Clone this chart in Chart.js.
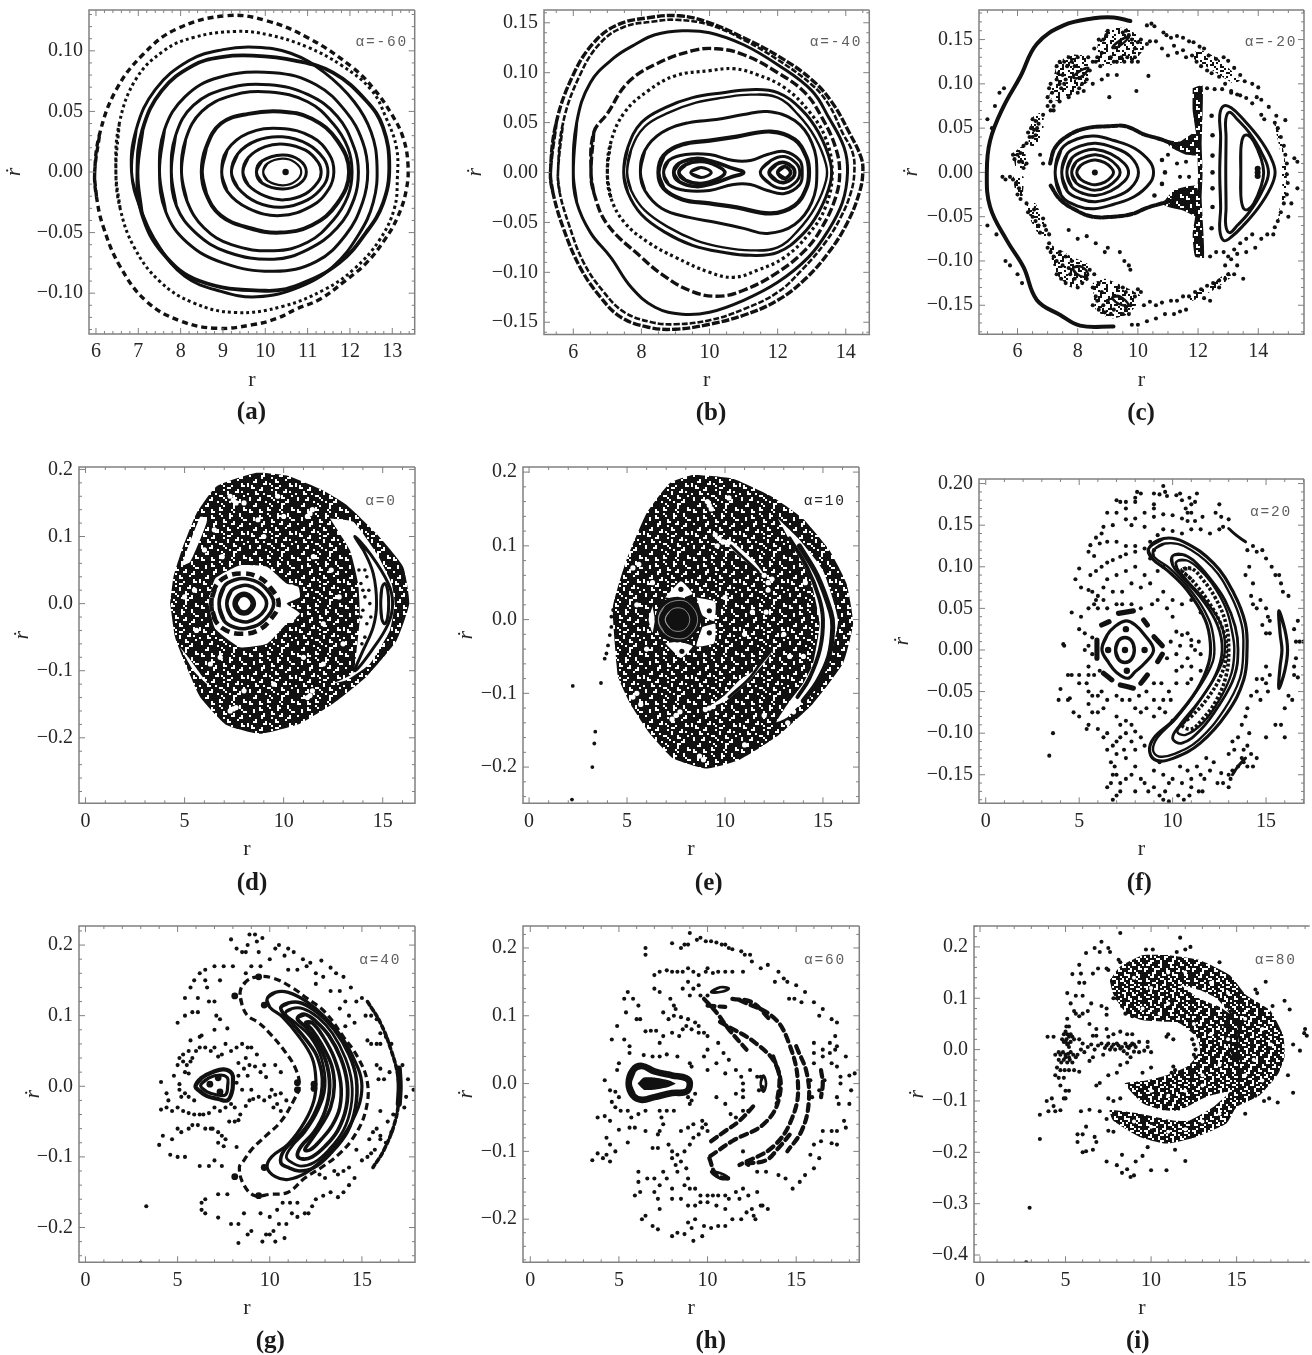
<!DOCTYPE html>
<html><head><meta charset="utf-8">
<script src="https://cdn.jsdelivr.net/npm/chart.js@4"></script>
<style>html,body{margin:0;background:#fff}#w{position:relative;width:1312px;height:1355px;overflow:hidden;background:#fff}canvas{position:absolute}</style>
</head><body><div id="w"></div>
<script>
// ---------- values: flat lists r,v,r,v,...
const aOuter=[5.97,0,6.09,.032,6.48,.068,7.11,.097,7.9,.118,9.08,.129,10.02,.125,11.05,.11,12.07,.086,12.58,.068,12.98,.048,13.25,.029,13.37,.007,13.33,-.015,13.13,-.037,12.82,-.056,12.39,-.075,11.88,-.09,11.29,-.105,10.74,-.113,10.26,-.121,9.71,-.126,8.85,-.129,8,-.123,7.2,-.107,6.57,-.078,6.17,-.045,6.01,-.02];
const aRing2=[6.47,0,6.55,.04,6.95,.077,7.6,.1,8.3,.111,9.3,.116,10.1,.113,11,.103,11.8,.088,12.5,.068,12.85,.045,13.1,.02,13.12,-.005,13.05,-.03,12.7,-.056,12.1,-.08,11.4,-.097,10.4,-.111,9.3,-.116,8.3,-.108,7.5,-.09,6.9,-.062,6.57,-.03];
const aRing3=[6.84,0,6.95,.035,7.4,.068,8.2,.092,9,.101,9.75,.103,10.6,.098,11.4,.082,12.1,.058,12.5,.033,12.64,.005,12.55,-.025,12.2,-.052,11.6,-.078,10.8,-.095,9.8,-.103,8.9,-.098,8.1,-.086,7.5,-.062,7.05,-.03];
const aRing4=[6.98,0,7.1,.035,7.55,.067,8.3,.088,9,.095,9.7,.096,10.7,.092,11.6,.082,12.38,.059,12.78,.037,12.93,.004,12.78,-.026,12.38,-.05,11.75,-.075,10.8,-.093,10,-.098,8.45,-.09,7.58,-.067,7.08,-.034];
const aRing5=[7.5,0,7.62,.035,8.1,.062,8.9,.078,10.2,.082,11.2,.072,11.9,.05,12.3,.025,12.42,0,12.3,-.025,11.9,-.052,11.2,-.074,10.2,-.082,9,-.075,8.15,-.058,7.65,-.033];
const aRing6=[7.78,0,7.88,.03,8.3,.055,9.1,.069,10.1,.072,11,.064,11.7,.046,12.1,.02,12.2,0,12.1,-.022,11.7,-.046,11,-.064,10.2,-.072,9.1,-.066,8.35,-.05,7.9,-.028];
const aRing7=[8.02,0,8.12,.027,8.5,.05,9.2,.063,10.1,.066,11,.058,11.6,.04,11.95,.02,12.05,0,11.95,-.02,11.6,-.04,11,-.058,10.2,-.065,9.2,-.06,8.55,-.046,8.15,-.024];
const aRing8=[8.5,0,8.6,.02,8.95,.04,9.6,.048,10.35,.05,11.1,.044,11.7,.026,11.98,0,11.7,-.026,11.1,-.044,10.35,-.05,9.6,-.046,8.95,-.036,8.6,-.018];
const aRing9=[8.97,0,9.1,.018,9.6,.032,10.35,.036,11.1,.029,11.52,.014,11.62,0,11.5,-.014,11.1,-.028,10.35,-.036,9.6,-.03,9.1,-.016];
const aRing10=[9.2,0,9.35,.015,9.8,.026,10.4,.029,11,.023,11.38,.011,11.48,0,11.38,-.011,11,-.023,10.4,-.029,9.8,-.025,9.35,-.013];
const aRing11=[9.47,0,9.6,.012,10,.021,10.45,.023,10.95,.018,11.25,.008,11.32,0,11.25,-.008,10.95,-.018,10.45,-.023,10,-.02,9.6,-.011];
const aRing12=[9.79,0,9.92,.009,10.4,.014,10.8,.01,10.97,0,10.8,-.01,10.4,-.014,9.92,-.009];
const aRing13=[9.95,0,10.05,.007,10.4,.011,10.7,.008,10.85,0,10.7,-.008,10.4,-.011,10.05,-.007];
const aCentre=[10.48,0];

const bRing1=[5.33,0,5.5,.05,6,.098,6.6,.13,7.3,.148,8.2,.155,9.1,.157,10,.15,11,.135,12,.117,13,.093,13.6,.07,14.1,.04,14.45,.015,14.5,0,14.4,-.02,14.05,-.05,13.5,-.08,12.8,-.107,12,-.128,11,-.143,10,-.152,9,-.157,8.2,-.155,7.4,-.145,6.8,-.125,6.2,-.095,5.7,-.055,5.4,-.02];
const bRing2=[5.55,0,5.7,.05,6.2,.098,6.8,.13,7.5,.146,8.3,.151,9,.153,10,.148,11,.133,12,.113,13,.088,13.5,.068,13.9,.04,14.2,.02,14.25,0,14.15,-.02,13.85,-.045,13.4,-.07,12.7,-.098,12,-.12,11,-.137,10,-.148,9,-.152,8.3,-.15,7.5,-.14,6.9,-.12,6.3,-.09,5.85,-.05,5.6,-.02];
const bRing3=[6,0,6.1,.05,6.5,.09,7.2,.115,7.8,.128,8.4,.138,9.2,.142,10,.14,11,.128,12,.108,13,.082,13.5,.055,13.95,.025,14.05,0,13.9,-.03,13.45,-.06,12.9,-.085,12,-.11,11,-.128,10,-.14,9.2,-.142,8.4,-.135,7.7,-.115,7.1,-.085,6.5,-.06,6.1,-.03];
const bRing4=[6.52,0,6.6,.04,7,.059,7.6,.09,8.45,.109,9.5,.122,10.2,.124,11,.118,12,.1,12.8,.08,13.3,.055,13.7,.025,13.82,0,13.7,-.025,13.3,-.055,12.8,-.078,12,-.1,11,-.118,10.2,-.124,9.4,-.118,8.6,-.102,8,-.085,7,-.052,6.6,-.02];
const bRing5=[7,0,7.1,.03,7.5,.06,8.2,.082,9,.097,10,.102,10.7,.104,11.4,.098,12.2,.085,12.9,.062,13.4,.035,13.6,0,13.4,-.035,12.9,-.062,12.2,-.085,11.4,-.098,10.7,-.105,10,-.1,9,-.085,8.2,-.07,7.5,-.05,7.1,-.025];
const bRing6=[7.48,0,7.6,.025,8,.05,8.7,.065,9.5,.075,10.4,.08,11.2,.083,12,.08,12.7,.063,13.2,.04,13.55,.01,13.55,-.01,13.2,-.04,12.7,-.063,12,-.08,11.2,-.083,10.4,-.08,9.5,-.073,8.7,-.06,8,-.042,7.6,-.02];
const bRing7=[7.58,0,7.7,.023,8.1,.046,8.8,.06,9.6,.07,10.4,.075,11.2,.078,12,.075,12.6,.058,13.1,.035,13.42,.008,13.42,-.008,13.1,-.035,12.6,-.058,12,-.075,11.2,-.078,10.4,-.075,9.6,-.068,8.8,-.055,8.1,-.038,7.7,-.018];
const bRing8=[7.97,0,8.1,.022,8.6,.04,9.4,.05,10.2,.053,11,.058,11.7,.061,12.5,.052,13,.03,13.15,0,13,-.03,12.5,-.052,11.7,-.061,11,-.056,10.2,-.05,9.4,-.045,8.6,-.036,8.1,-.018];
const bRing9=[8.5,0,8.65,.017,9.2,.028,10,.032,10.8,.036,11.8,.041,12.5,.033,12.85,.015,12.92,0,12.85,-.015,12.5,-.033,11.8,-.041,10.8,-.035,10,-.031,9.2,-.027,8.65,-.016];
const bRing10=[8.65,0,8.8,.012,9.3,.018,10,.018,10.7,.012,11.2,.012,11.7,.018,12.2,.021,12.65,.012,12.72,0,12.65,-.012,12.2,-.021,11.7,-.018,11.2,-.012,10.7,-.012,10,-.018,9.3,-.018,8.8,-.012];
const bLobeL1=[8.95,0,9.1,.009,9.6,.014,10.1,.011,10.6,.005,11,0,10.6,-.005,10.1,-.011,9.6,-.014,9.1,-.009];
const bLobeL2=[9.1,0,9.3,.008,9.75,.011,10.2,.007,10.45,0,10.2,-.007,9.75,-.011,9.3,-.008];
const bLobeL3=[9.45,0,9.75,.005,10.05,0,9.75,-.005];
const bLobeR1=[11.49,0,11.8,.012,12.2,.016,12.55,.009,12.65,0,12.55,-.009,12.2,-.016,11.8,-.012];
const bLobeR2=[11.75,0,11.95,.008,12.2,.01,12.45,.005,12.5,0,12.45,-.005,12.2,-.01,11.95,-.008];
const bLobeR3=[12,0,12.2,.006,12.38,0,12.2,-.006];

const cOval1=[7.25,0,7.45,.026,8,.038,8.55,.041,9.2,.036,9.9,.027,10.4,.012,10.52,0,10.4,-.012,9.9,-.027,9.2,-.036,8.55,-.041,8,-.038,7.45,-.026];
const cOval2=[7.47,0,7.65,.021,8.1,.03,8.6,.033,9.2,.028,9.75,.018,10.02,0,9.75,-.018,9.2,-.028,8.6,-.033,8.1,-.03,7.65,-.021];
const cOval3=[7.64,0,7.8,.016,8.2,.024,8.6,.026,9.1,.021,9.55,.01,9.69,0,9.55,-.01,9.1,-.021,8.6,-.026,8.2,-.024,7.8,-.016];
const cOval4=[7.8,0,7.95,.012,8.3,.018,8.6,.02,9,.016,9.32,.007,9.41,0,9.32,-.007,9,-.016,8.6,-.02,8.3,-.018,7.95,-.012];
const cOval5=[7.97,0,8.1,.008,8.4,.013,8.6,.014,8.9,.011,9.12,.005,9.19,0,9.12,-.005,8.9,-.011,8.6,-.014,8.4,-.013,8.1,-.008];
const cCentre=[8.57,0,13.98,0,13.98,.004,13.98,-.004];
const cMoon1=[12.72,0,12.75,.04,12.72,.065,12.85,.075,13.1,.073,13.5,.06,14,.04,14.4,.018,14.56,0,14.4,-.018,14,-.04,13.5,-.06,13.1,-.073,12.85,-.077,12.72,-.065,12.75,-.04];
const cMoon2=[12.92,0,12.93,.04,12.92,.06,13.05,.068,13.3,.06,13.7,.045,14.1,.023,14.34,0,14.1,-.023,13.7,-.045,13.3,-.06,13.05,-.068,12.92,-.06,12.93,-.04];
const cMoon3=[13.42,0,13.42,.025,13.5,.04,13.65,.042,13.85,.035,14.1,.015,14.18,0,14.1,-.015,13.85,-.035,13.65,-.042,13.5,-.04,13.42,-.025];
const cColumn=[12.45,.064,12.48,.042,12.48,.019,12.48,0,12.48,-.018,12.48,-.039,12.45,-.063,10.8,.014,10.9,0,10.8,-.013,10.55,-.026];
const cBandTop=[7.08,.01,7.25,.028,7.7,.042,8.3,.05,9,.052,9.6,.052,10.2,.043,10.8,.037,11.3,.03];
const cBandLow=[7.1,-.015,7.4,-.03,7.9,-.042,8.5,-.05,9.2,-.05,9.8,-.047,10.3,-.04,10.9,-.034,11.3,-.03];
const cMassTop=[10.9,.037,11.4,.035,11.9,.045,12.1,.02,11.6,.02,11.1,.028];
const cMassLow=[10.8,-.036,11.2,-.02,11.9,-.015,12.1,-.03,12,-.05,11.5,-.043,11.1,-.04];
const cWall=[11.82,.095,12.15,.098,12.12,.03,12.15,0,12.12,-.03,12.2,-.096,11.9,-.095,11.82,-.07,11.95,-.04,12,0,11.95,.04,11.82,.07];
const cRim=[9.75,.171,9.2,.175,8.53,.174,7.53,.166,6.64,.145,6.09,.108,5.53,.074,5.09,.036,4.98,0,5.09,-.039,5.65,-.077,6.2,-.107,6.64,-.144,7.42,-.161,8.08,-.173,9.19,-.174];
const cIsle1=[9.15,.141,9.4,.149,9.7,.153,9.55,.147,9.3,.141];
const cIsle2=[7.85,.108,8.1,.115,8.35,.118,8.2,.11,7.95,.106];
const cIsle3=[7.85,-.108,8.1,-.106,8.35,-.115,8.2,-.118,7.95,-.114];
const cIsle4=[9.15,-.141,9.4,-.14,9.7,-.15,9.5,-.15,9.25,-.146];
const cPatchA=[8.6,.125,8.7,.15,9,.162,9.6,.163,10.1,.152,10.2,.14,9.9,.127,9.3,.123,8.9,.12];
const cPatchB=[7.05,.085,7.3,.12,7.7,.133,8.45,.13,8.4,.105,7.9,.09,7.4,.08];
const cPatchC=[6.35,.03,6.5,.062,6.85,.068,6.85,.045,6.6,.03];
const cPatchD=[5.85,.022,6.2,.03,6.3,.005,5.95,.005];
const cPatchE=[5.85,-.005,6.2,-.005,6.15,-.03,5.95,-.025];
const cPatchF=[6.3,-.035,6.6,-.035,7.05,-.07,6.8,-.075,6.45,-.055];
const cPatchG=[7,-.08,7.3,-.115,7.8,-.13,8.4,-.12,8.4,-.105,7.8,-.095,7.3,-.085];
const cPatchH=[8.5,-.125,8.6,-.155,9.1,-.165,9.7,-.16,10.1,-.14,9.5,-.128,8.9,-.12];
const cPatchI=[12,.14,12.6,.13,13.4,.105,13.2,.1,12.4,.117,11.8,.13];
const cPatchJ=[11.6,-.14,12.4,-.128,13,-.112,13.1,-.118,12.5,-.133,11.8,-.145];
const cPatchK=[14.5,.06,14.75,.04,14.95,0,14.9,-.03,14.65,-.055,14.8,-.02,14.75,.02];
const cArcTop=[10.3,.166,10.45,.168,10.55,.165,10.85,.158,10.95,.155,11.1,.152,11.3,.154,11.5,.152,11.7,.148,11.85,.147,12.05,.142,12.2,.14,12.35,.132,12.6,.128,12.85,.13,13,.126,13.2,.118,13.4,.11,13.55,.103,13.8,.1,14,.096,13.95,.085,14.1,.082,14.35,.074,14.6,.064,14.9,.059,10.4,.148,10.6,.148,10.8,.14,11,.132,11.2,.143,11.3,.135,11.5,.138,11.6,.13,11.8,.132,11.95,.125,12.1,.12,12.3,.115,12.45,.112,12.7,.108,12.9,.1,13.1,.092,13.3,.088,13.6,.084,13.8,.078,14.1,.065,14.2,.06,12.3,.095,12.55,.094,12.8,.094,13.1,.09,13.4,.087];
const cArcRight=[14.55,.056,14.65,.05,14.75,.04,14.85,.03,14.9,.02,14.95,.01,14.95,-.002,14.98,-.012,14.95,-.025,14.85,-.035,14.75,-.045,14.65,-.055,14.55,-.062,14.5,-.07,14.3,-.07,14.1,-.075,13.9,-.085,13.6,-.09,13.3,-.092,13.1,-.098,15.2,.016,15.3,.012,15.3,-.018,15.1,-.035,15,-.05];
const cArcLow=[12.4,-.095,12.6,-.09,12.85,-.09,13,-.095,13.2,-.087,13.4,-.08,13.6,-.075,13.8,-.07,12.9,-.12,12.7,-.122,12.5,-.125,12.3,-.128,12.1,-.132,11.9,-.135,11.7,-.14,11.5,-.14,11.3,-.145,11.1,-.145,10.8,-.147,10.6,-.15,10.4,-.146,10.2,-.15,10.9,-.16,10.6,-.165,10.3,-.168,10,-.172,9.8,-.172,11.6,-.155,11.4,-.157,11.2,-.16,12.2,-.142,12.4,-.145,12.7,-.13,13,-.115,13.2,-.115,13.5,-.12,13.3,-.105,12.9,-.105];
const cCloudUp=[7,.085,7.05,.095,7.1,.08,7.15,.09,7.2,.075,7.1,.1,7.3,.105,7.4,.1,7.35,.112,7.45,.095,7.55,.1,7.5,.11,7.6,.105,7.3,.12,7.4,.125,7.55,.125,7.65,.12,7.7,.13,7.8,.125,7.9,.12,8,.13,8.05,.095,8.15,.1,8.3,.105,8.4,.115,8.35,.13,8.5,.125,8.55,.14,8.65,.13,8.7,.15,8.8,.135,8.6,.125,8.75,.12,8.85,.15,8.95,.155,9,.16,9.1,.13,9.2,.125,9.3,.125,9.45,.13,9.55,.125,9.65,.13,9.8,.125,9.9,.13,10,.125,9.7,.155,9.8,.15,9.6,.16,9.5,.158,9.9,.14,10,.147,10.1,.15,10.3,.145,7.2,.07,7.4,.08,7.7,.085,8,.09,8.2,.092,8.5,.1,8.8,.105,9,.11,9.3,.11,9.05,.085,9.95,.092,10.35,.109];
const cCloudLow=[7,-.085,7.1,-.09,7.05,-.08,7.2,-.095,7.3,-.1,7.4,-.09,7.5,-.105,7.6,-.095,7.7,-.108,7.8,-.1,7.3,-.115,7.45,-.12,7.6,-.125,7.75,-.115,7.9,-.12,8,-.13,8.15,-.125,8.3,-.12,8.4,-.11,8.55,-.115,8.5,-.13,8.6,-.14,8.7,-.125,8.8,-.135,8.65,-.145,8.5,-.15,8.7,-.155,8.85,-.15,9,-.145,9.1,-.16,9.2,-.155,9.35,-.13,9.5,-.13,9.6,-.135,9.75,-.15,9.9,-.14,10,-.132,10.1,-.135,9.5,-.16,9.6,-.155,9.7,-.16,8.9,-.158,9.4,-.09,9.55,-.1,9.7,-.105,9.75,-.11,9,-.085,8.6,-.08,8.9,-.09,8.3,-.072,8,-.075,7.7,-.065];
const cCloudMid=[6.5,.06,6.6,.058,6.7,.055,6.45,.05,6.55,.048,6.65,.05,6.35,.045,6.4,.04,6.5,.04,6.6,.042,6.3,.033,6.2,.03,6.1,.022,6,.02,6.05,.012,5.9,.015,5.85,.02,6.15,.012,6.2,.005,5.5,-.005,5.6,-.008,5.75,-.005,5.85,-.008,5.95,-.012,6.05,-.018,6,-.025,6.1,-.03,6.3,-.035,6.35,-.045,6.5,-.05,6.55,-.042,6.6,-.055,6.7,-.06,6.75,-.068,6.85,-.052,6.95,-.065,7.05,-.07,6.9,-.06,6.85,.065,7,.075,7.1,.07,6.3,.01,6.75,.02,6.85,.01,5.4,.09,5.55,.095,5.25,.075,5,.06,5.15,.05,5,-.06,5.3,-.07,5.6,-.1,5.75,-.105,6,-.115,6.15,-.125,11,.02,11.3,.01,11.4,-.005,11.6,.012,11.7,-.005];

const dEdge=[4.27,0,4.44,.04,4.86,.08,5.61,.135,6.62,.175,8.64,.195,10.15,.191,11.83,.171,13.18,.147,14.69,.104,16.03,.055,16.34,0,15.7,-.055,14.18,-.109,12.5,-.149,10.82,-.179,8.8,-.194,7.12,-.181,5.78,-.139,5.11,-.095,4.52,-.05];
const dCore=[6.2,0,6.54,.037,7.8,.057,9.15,.055,10.15,.03,10.74,.025,10.82,.01,10.15,0,10.82,-.015,10.15,-.03,9.15,-.06,7.8,-.065,6.54,-.037];
const dBeads=[6.35,0,6.55,.025,7.1,.04,7.9,.045,8.7,.04,9.3,.025,9.75,0,9.3,-.025,8.7,-.04,7.9,-.045,7.1,-.04,6.55,-.025];
const dRing1=[6.74,0,7,.026,7.6,.036,8.1,.037,8.8,.03,9.35,.013,9.5,0,9.35,-.013,8.8,-.03,8.1,-.037,7.6,-.036,7,-.026];
const dRing2=[7.13,0,7.35,.019,7.8,.026,8.2,.027,8.7,.02,9.05,.009,9.14,0,9.05,-.009,8.7,-.02,8.2,-.027,7.8,-.026,7.35,-.019];
const dRing3=[7.55,0,7.7,.01,8,.014,8.3,.01,8.47,0,8.3,-.01,8,-.014,7.7,-.01];
const dGap=[12.34,.127,13.51,.122,14.69,.075,15.45,.03,15.6,0,15.36,-.04,14.35,-.09,13.18,-.114,12.5,-.119,13.5,-.104,13.68,-.07,13.85,-.02,13.76,.03,13.34,.08];
const dMoon=[13.6,.1,14.35,.075,15.28,.03,15.5,0,15.28,-.03,14.44,-.07,13.6,-.1,13.93,-.075,14.52,-.035,14.69,0,14.52,.045,14.02,.08];
const dMoonCore=[14.9,0,14.95,.022,15.1,.03,15.25,.02,15.3,0,15.25,-.02,15.1,-.03,14.95,-.022];
const dGapUp=[6.03,.129,5.78,.129,4.86,.057,5.28,.062,5.78,.095,6.12,.122];
const dGapLow=[4.77,-.065,5.45,-.1,6.29,-.124,5.78,-.104,5.19,-.08];
const dSpecks=[7.46,.154,7.6,.15,7.3,.16,11.33,.134,11.2,.13,11.45,.14,7.46,-.157,7.6,-.155,7.3,-.16,11.33,-.137,11.2,-.14,11.45,-.13,10.5,.017,10.4,.025,10.5,-.02,10.4,-.025,6,.08,6.5,.11,9,.1,10,.13,8,.15,5.5,.02,5,.01,5.6,-.04,6.3,-.09,8,-.13,9.5,-.12,11,-.08,12,-.09,12,-.03,12.8,.01,12.4,.05,11.5,.07,13,-.06,9.7,.16,8.7,.125,6.9,.07,6.8,-.08];
const dSparse=[13.9,.03,14,.02,14.1,.01,14,-.01,13.9,-.02,14.2,-.03,14.1,-.05,14.3,.02,13.95,-.06,13.8,.05,14.1,.05,14.2,.04,14.35,0,14.4,-.02];

const eEdge=[4.46,-.06,4.28,.017,4.96,.08,5.99,.144,7.18,.185,8.37,.196,10.41,.191,12.45,.166,13.97,.137,15.33,.094,16.2,.049,16.54,-.005,16.03,-.059,14.49,-.114,12.62,-.159,10.75,-.19,9.05,-.202,7.35,-.188,6.15,-.154,5.14,-.113,4.54,-.078];
const eDisc=[6.4,0,6.65,.021,7.1,.029,7.6,.031,8.2,.027,8.65,.014,8.8,0,8.65,-.014,8.2,-.027,7.6,-.031,7.1,-.029,6.65,-.021];
const eThin1=[6.6,0,6.9,.018,7.6,.026,8.2,.021,8.6,0,8.2,-.021,7.6,-.026,6.9,-.018];
const eThin2=[6.95,0,7.2,.012,7.6,.016,8,.012,8.2,0,8,-.012,7.6,-.016,7.2,-.012];
const ePetal1=[6.95,.03,7.75,.052,8.35,.035,7.6,.028];
const ePetal2=[8.55,.03,9.5,.024,9.45,-.002,8.85,.006];
const ePetal3=[8.85,-.01,9.5,-.006,9.45,-.032,8.55,-.036];
const ePetal4=[6.95,-.032,7.6,-.03,8.35,-.036,7.75,-.052];
const ePetal5=[6.3,.018,6.42,0,6.3,-.018,6.1,0];
const ePetalDots=[7.75,.041,9.2,.012,9.2,-.018,7.8,-.043];
const eLensUp=[9.81,.11,10.41,.105,11.43,.081,12.02,.06,11.26,.074,10.41,.094];
const eLensLow=[9.05,-.121,10.07,-.11,11.26,-.082,12.11,-.055,12.45,-.042,11.77,-.064,10.75,-.082,9.98,-.103];
const eLensLine=[10.2,-.105,11.3,-.078,11.9,-.055];
const eLensLine2=[10.3,.1,11.1,.08,11.7,.065];
const eGap=[12.7,.137,13.81,.108,15,.067,15.77,-.001,15.26,-.06,14.32,-.1,13.21,-.132,12.62,-.139,13.21,-.114,13.98,-.087,14.49,-.06,14.83,-.005,14.32,.058,13.47,.099];
const eArc1=[13.3,.11,14.2,.07,14.8,.03,15,0,14.85,-.04,14.3,-.08,13.7,-.105];
const eArc2=[13.8,.1,14.7,.06,15.4,.01,15.5,-.01,15.3,-.05,14.7,-.085,14,-.11];
const eSpecks=[9.7,.11,9.9,.105,9.5,.115,9.6,.1,12.2,.05,12.4,.055,12,.06,12.2,.04,9.2,-.12,9.4,-.118,9,-.122,7.5,-.13,7.3,-.135,7.7,-.125,9.2,.155,9.3,.15,9.1,.16,5.3,.07,5.6,.075,10.2,.165,14.1,.05,13,-.02,14,-.05,12.1,.01,11.4,.01,11,-.02,5.3,-.105,5.5,-.1,5.7,-.115,8.7,-.185,8.9,-.19,11,-.17,12,-.13,13.3,-.05,13.2,-.14,13.5,-.125,13.7,-.115,10,.03,6,-.04,6.3,.05,5.5,.02];
const eStray=[2.23,-.09,3.67,-.086,3.38,-.152,3.33,-.168,3.23,-.2,2.19,-.244,3.86,-.053,3.95,-.046,4.03,-.035,4.12,-.021,4.2,-.01,4.2,.004,4.29,.013];

const fCres1=[8.72,.122,9.52,.134,10.59,.13,12.2,.104,13.28,.068,13.89,.032,13.98,0,13.8,-.036,12.91,-.076,11.48,-.112,10.06,-.13,9.17,-.133,8.77,-.122,8.99,-.106,10.06,-.084,11.3,-.048,11.93,-.016,12.02,.008,11.75,.036,10.77,.072,9.7,.096,8.9,.11];
const fCres2=[8.99,.12,9.6,.128,10.6,.125,12.1,.1,13.1,.066,13.7,.03,13.78,0,13.6,-.034,12.75,-.072,11.4,-.108,10.1,-.125,9.25,-.128,8.95,-.12,9.2,-.105,10.2,-.082,11.45,-.044,12.15,-.014,12.22,.008,11.95,.036,10.95,.072,9.85,.098,9,.112];
const fCres3=[10,.113,10.5,.115,11.1,.108,12,.086,12.8,.06,13.35,.028,13.5,0,13.3,-.032,12.5,-.066,11.5,-.096,10.5,-.112,10,-.106,10.4,-.09,11.4,-.062,12.3,-.03,12.65,0,12.4,.03,11.6,.06,10.5,.088,10,.102];
const fCres4=[10.2,.106,10.7,.108,11.3,.1,12.1,.08,12.85,.05,13.2,.02,13.3,0,13.15,-.028,12.5,-.06,11.6,-.088,10.7,-.102,10.25,-.098,10.7,-.085,11.6,-.056,12.45,-.025,12.8,0,12.6,.03,11.8,.058,10.8,.083,10.25,.098];
const fCres5=[10.5,.096,11,.098,11.6,.085,12.3,.062,12.85,.032,13,0,12.85,-.032,12.3,-.062,11.6,-.083,11,-.095,10.5,-.09,11,-.08,11.8,-.06,12.6,-.03,12.88,0,12.6,.03,11.8,.062,11,.085];
const fDiamond=[6.22,0,6.5,.018,6.9,.028,7.5,.035,8,.03,8.5,.018,8.98,0,8.5,-.016,8,-.026,7.6,-.034,7,-.027,6.6,-.016];
const fSmall=[6.95,0,7.1,.011,7.45,.015,7.8,.011,7.95,0,7.8,-.011,7.45,-.015,7.1,-.011];
const fInner=[7.5,.025,7.55,-.025,6.55,0,8.5,0,7.45,0];
const fBead1=[6.2,.03,6.6,.034];const fBead2=[7.1,.044,7.9,.047];const fBead3=[8.45,.036,8.65,.03];const fBead4=[9,.016,9.45,.005];
const fBead5=[5.95,.012,5.95,-.01];const fBead6=[6.3,-.028,6.75,-.036];const fBead7=[7.2,-.042,7.9,-.046];const fBead8=[8.3,-.04,8.65,-.03];const fBead9=[9.2,-.014,9.45,-.005];
const fLens=[15.68,.047,16,.025,16.15,0,16,-.025,15.68,-.046,15.75,-.02,15.85,0,15.75,.02];
const fDash1=[13,.146,13.4,.138,13.9,.13];const fDash2=[13.2,-.15,13.5,-.14,13.9,-.13];
const fDotsUp=[9.5,.197,9.6,.19,8.1,.19,8,.183,8.3,.188,9,.188,9.3,.187,9.7,.185,10.2,.186,10.4,.188,10.5,.18,10.9,.183,11.3,.188,11.2,.178,11,.175,10.7,.17,10.8,.165,11,.165,7,.18,7.2,.178,7.5,.178,7.5,.17,8,.178,9,.175,9,.17,8.5,.165,9,.16,9.5,.163,10,.162,10.5,.158,10.8,.155,11.2,.155,11.6,.16,12.3,.165,12.5,.175,12.6,.16,13,.157,12.7,.148,12.5,.145,12,.14,11.5,.145,11,.145,10.5,.14,10,.143,9.5,.145,9.2,.138,8.5,.148,8,.158,7.8,.15,7.5,.157,7,.165,6.8,.15,6.5,.165,6.3,.148,6.2,.14,5.9,.135,6.1,.128,5.6,.126,5.5,.118,5.8,.113,6.5,.13,7,.13,7.5,.125,8,.125,8,.118,8.5,.122,8.8,.13,7.2,.112,7.5,.115,6.8,.108,6.5,.105,6.2,.1,5.9,.095,5.6,.09,5,.098,4.8,.085,5.1,.075,5.5,.072,5.7,.07,6,.065,6.3,.075,6.5,.085,7,.09,7.5,.095,8,.1,8.5,.09,8.8,.11,9,.12,9.5,.1,9.2,.095,8.8,.08,8.3,.075,7.8,.08,7.3,.07,6.8,.07,6.3,.06,5.8,.055,5.5,.05,5.1,.04,4.6,.045,5,.025,5.3,.02,5.7,.015,5.5,.005,5.3,0,5.7,-.005,5.5,-.02,4.2,.005,4.15,.007];
const fDotsLow=[5.5,-.03,5,-.03,4.6,-.03,4.4,-.03,5,-.04,5.4,-.04,5.8,-.03,6.1,-.025,6.2,-.05,6,-.055,5.7,-.055,5.5,-.05,5.5,-.065,5.7,-.075,6,-.075,6.3,-.07,6.5,-.06,7,-.055,7.3,-.06,7.7,-.06,8.2,-.055,8.6,-.05,9,-.04,9.4,-.04,9.8,-.05,8,-.07,8.3,-.075,8.6,-.07,9,-.06,9.5,-.06,9.3,-.07,9,-.08,9.6,-.075,9.9,-.06,10,-.085,4,-.047,3.9,-.06,4.4,-.06,4.5,-.058,4.7,-.075,5,-.08,5.5,-.09,5.4,-.095,6,-.095,6.5,-.1,6.3,-.105,7,-.08,7.2,-.09,7.5,-.085,7.8,-.09,8,-.098,7.5,-.1,7.2,-.105,7,-.11,6.8,-.115,7.4,-.12,7.8,-.11,8.3,-.105,8.5,-.115,8,-.12,7.5,-.13,7,-.125,6.5,-.12,3.4,-.127,3.6,-.1,6.7,-.135,6.9,-.14,7,-.15,6.8,-.15,6.7,-.16,7.2,-.16,7.5,-.155,7.8,-.15,8,-.14,7.2,-.17,7,-.175,6.5,-.165,6.8,-.18,8,-.17,8.3,-.155,9,-.145,9.5,-.15,9.3,-.135,9.8,-.16,9.6,-.17,9,-.165,9.3,-.175,8.5,-.16,8.7,-.17,9.5,-.18,9.8,-.182,10.3,-.175,10.6,-.18,10.9,-.175,11,-.165,11.4,-.17,11.6,-.17,10,-.155,10.5,-.16,11,-.155,11.5,-.15,11.7,-.155,12,-.145,11.8,-.13,11.3,-.14,10.8,-.145,10.4,-.14,12.2,-.135,12.4,-.16,12.7,-.16,13,-.165,13.1,-.155,12.6,-.148,13,-.15,13.2,-.145,13.5,-.14,13.8,-.135,14,-.14,14.3,-.14,14.5,-.13,14.2,-.125,13.7,-.13,13.3,-.12,13,-.125];
const fDotsRight=[13.8,-.12,14,-.115,13.5,-.105,13.2,-.11,13.7,-.09,13.9,-.08,14,-.07,14.1,-.1,14.2,-.055,14.5,-.05,14.5,-.035,14.8,-.035,15,-.04,15,-.02,15.2,-.03,15.1,-.05,14.7,-.06,15,-.105,15.5,-.09,15.8,-.09,16,-.07,16.2,-.055,16.4,-.06,16,-.105,14.8,.03,15,.02,15.2,.02,15.1,.04,15,.05,15.2,.035,14.3,.055,14.5,.05,14.7,.06,14.2,.065,13.9,.09,14.1,.1,14.3,.08,14,.12,14.3,.125,14.5,.118,14.8,.12,15,.11,15.3,.1,15.5,.09,15.7,.09,15.8,.08,15.9,.07,16.2,.065,16.7,.035,16.5,.025,16.8,.01,16.6,.01,16.6,-.01,16.5,-.02,16.7,-.033,16.5,-.03,17,.01];
const fDotsMid=[9.7,.05,10,.04,10.2,.022,10.5,.018,10.8,.02,11,.012,10.4,.005,10.2,-.005,10.5,-.02,10.2,-.025,9.7,-.01,9.9,.01,11,.005,11.2,0,11.4,.01,11.5,-.005,10.8,-.01,11,-.02,11.5,-.025,11,-.035,10.8,-.04,10.2,-.04,10.5,.055,10,.06,9.5,.07,11,.06,11.5,.045,9.2,.06,8.9,.055,8.3,.05,7.8,.055,7.3,.055,7,.055,6.5,.05,6,.05,5.9,.06];

const gRing1=[9.86,.124,10.3,.133,11,.133,12,.12,13,.098,14,.066,14.8,.025,15,0,14.8,-.03,14,-.07,13,-.1,12,-.122,11,-.132,10.3,-.128,9.86,-.115,10.1,-.1,11,-.082,11.9,-.05,12.4,-.02,12.5,.01,12.3,.04,11.6,.07,10.7,.098,10,.112];
const gRing2=[10.6,.11,11,.118,11.7,.118,12.6,.104,13.5,.08,14.3,.045,14.7,.01,14.65,-.03,14.2,-.065,13.3,-.095,12.4,-.115,11.6,-.12,11,-.115,10.6,-.108,10.8,-.09,11.6,-.07,12.4,-.04,12.85,0,12.6,.04,12,.065,11.2,.09];
const gRing3=[10.85,.103,11.2,.11,11.8,.11,12.6,.098,13.4,.075,14.1,.04,14.45,.005,14.4,-.03,14,-.062,13.2,-.09,12.4,-.108,11.7,-.113,11.2,-.108,10.9,-.1,11.2,-.085,11.9,-.065,12.6,-.035,13,0,12.8,.04,12.2,.07,11.4,.09];
const gRing4=[11.5,.096,11.9,.102,12.5,.092,13.2,.072,13.85,.04,14.2,.005,14.15,-.03,13.7,-.062,13,-.085,12.3,-.1,11.8,-.103,11.5,-.098,11.7,-.085,12.4,-.065,13,-.035,13.25,0,13.05,.035,12.5,.065,11.9,.085];
const gRing5=[11.95,.09,12.3,.09,12.9,.07,13.5,.04,13.85,.005,13.8,-.03,13.4,-.055,12.8,-.075,12.2,-.09,11.9,-.09,12.2,-.078,12.8,-.055,13.3,-.03,13.5,0,13.35,.03,12.8,.06,12.3,.08];
const gChain=[8.4,.135,8.7,.148,9.3,.155,10.2,.153,11.2,.14,12,.125,13,.105,14,.07,14.8,.04,15.3,.005,15.2,-.035,14.6,-.07,13.8,-.095,12.8,-.115,11.9,-.13,11,-.15,10,-.153,9.2,-.155,8.6,-.14,8.35,-.115,8.6,-.105,9,-.09,9.8,-.07,10.6,-.05,11.3,-.02,11.6,0,11.4,.025,10.8,.05,10,.075,9.4,.09,8.8,.1,8.5,.115];
const gArcFar=[15.3,.12,16,.09,16.6,.05,16.95,.015,17,-.015,16.8,-.05,16.2,-.09,15.6,-.115];
const gArcBold=[17,.025,17.05,0,17,-.025];
const gTri1=[5.97,0,6.3,.012,6.9,.02,7.5,.024,7.95,.018,8,.005,7.95,-.008,7.7,-.02,7.2,-.018,6.6,-.014,6.2,-.007];
const gTri2=[6.25,.001,6.7,.012,7.3,.016,7.7,.012,7.72,.002,7.6,-.012,7.1,-.012,6.6,-.008];
const gBlobs=[6.75,.003,7.2,.012,7.3,-.008,9.4,.155,9.7,.115,9.7,-.115,9.4,-.155,8.1,.128,8.1,-.128,12.4,.003,12.4,-.003,11.5,-.005,11.5,.005];
const gDotsLeft=[4.1,.006,4.4,-.01,4.5,-.02,4.7,-.035,4.1,-.033,4.4,-.03,4.8,.015,5.1,.003,5,.03,5.1,.04,5.3,.035,5.5,.03,5.7,.035,5.4,.02,5.6,.018,5.2,-.015,5.1,-.005,5.4,-.01,5.6,-.015,5.9,-.02,5,-.03,5.3,-.035,5.6,-.038,5.9,-.04,6.2,-.04,6.4,-.04,6.7,-.038,7,-.03,7.3,-.035,7.6,-.03,7.9,-.025,8.1,-.03,8.4,-.04,8.7,-.028,8.9,-.02,9.1,-.018,9.4,-.015,9.7,-.02,10,-.015,10.2,-.03,10.4,-.025,10.3,-.012,10.1,-.005,5.8,-.055,6.1,-.055,6.5,-.06,6.9,-.06,7.2,-.065,7.4,-.07,7.6,-.075,7.5,-.085,7.2,-.08,6.8,-.06,7.8,-.05,8.1,-.05,8.3,-.048,4,-.083,4.2,-.07,4.7,-.075,5,-.06,5.2,-.065,5.6,-.06,4.6,-.097,5,-.1,5.4,-.1,6.2,-.113,6.7,-.113,7,-.105,7.4,-.113,8.2,-.086,5.3,.045,5.6,.05,5.8,.04,6,.05,6.2,.055,6.5,.055,6.8,.05,7,.055,7.2,.042,7.4,.045,7.6,.06,7.9,.05,8.2,.055,8.5,.06,8.8,.055,9,.055,9.3,.045,8.7,.04,8.9,.03,9.2,.028,9.5,.02,9.8,.013,8.3,.033,8.6,.025,8.8,.015,8.3,.015,8.2,.005,8.5,-.005,9,-.005,9.7,.03,10.3,.03,10.6,.02,10.6,-.01,10.9,-.02,10.6,-.035];
const gDotsTop=[5.7,.065,6.2,.07,6.3,.072,7,.08,7.1,.1,7.3,.095,7.7,.082,6.1,.105,5.8,.105,5.4,.1,5,.09,5.4,.125,6.1,.125,6.7,.12,7,.12,5.7,.14,5.9,.15,6.5,.15,6.2,.16,6.6,.14,7.3,.15,6.5,.165,7,.17,7.5,.17,8,.17,8.7,.16,9,.17,9.5,.17,8.5,.19,8.2,.195,8.8,.2,8.9,.215,9.2,.215,9.3,.205,9.6,.21,7.9,.208,8.7,.19,9.4,.19,10,.18,10.3,.195,10.5,.2,11,.195,10.8,.185,11.3,.19,11.8,.18,12.2,.175,12.8,.178,13.3,.168,13.6,.16,14,.155,14.4,.14,11,.165,11.5,.165,12,.17,12.5,.16,12.9,.155,13.3,.135,13.8,.135,14.1,.12,12.5,.145];
const gDotsRight=[14.7,.12,15,.125,15.2,.1,15.5,.1,15.8,.095,16,.075,16.3,.07,16.6,.06,16,.06,15.3,.065,15.5,.06,15.8,.06,14.6,.09,14.3,.1,14.1,.085,13.8,.11,15.8,.03,16,.025,15.9,.01,16.2,.01,16.5,.02,17.2,.03,17.5,.01,17.8,-.005,17.4,-.015,17.3,-.03,16.7,-.04,16.4,-.05,16,-.035,15.8,-.06,16,-.07,15.6,-.065,15.4,-.075,15.7,-.09,16,-.075,16.3,-.08,16.6,-.065,15.5,-.095,15.3,-.1,15,-.105,14.7,-.09,14.3,-.115,14,-.12,13.7,-.125,13.5,-.12,13,-.13,12.7,-.125];
const gDotsLow=[14.6,-.13,14.3,-.14,14,-.15,13.7,-.157,13.3,-.15,12.9,-.155,12.5,-.16,12.1,-.18,12.3,-.17,11.9,-.18,11.5,-.185,11.5,-.165,11.1,-.165,10.7,-.165,11.2,-.18,10.9,-.195,10.5,-.195,10.2,-.205,10,-.21,9.8,-.21,9.6,-.22,10.3,-.22,10.8,-.215,9,-.205,8.8,-.21,8.3,-.222,7.9,-.195,8.3,-.195,8.6,-.18,9.5,-.18,10,-.185,10.4,-.175,6.3,-.165,6.5,-.16,6.3,-.175,6.5,-.18,7.2,-.153,7.7,-.153,7.2,-.186,3.3,-.17,3,-.25];

const hOuter=[5.55,0,5.8,.02,6.3,.026,7,.018,8,.012,8.8,.008,9,0,8.8,-.012,8,-.014,7,-.02,6.3,-.024,5.8,-.018];
const hInner=[6.05,0,6.4,.009,7,.009,7.8,.005,8.2,0,7.8,-.005,7,-.009,6.4,-.009];
const hArc1=[11.8,.123,13.7,.098,14.6,.059,15.1,0,14.8,-.049,13.7,-.093,11.8,-.12];
const hArc2=[10.7,.091,12.75,.059,13.9,.025,14.05,-.02,13.2,-.059,11.45,-.084,10.1,-.108];
const hArc3=[15,.055,15.6,.015,15.7,-.03,15.3,-.07,14.5,-.1];
const hArc4=[9.8,.125,10.5,.105,11.2,.08,12.2,.05];
const hArc5=[10.2,-.085,11,-.07,11.8,-.055,12.7,-.03];
const hArc6=[11.4,.125,12.5,.12,13.5,.095];
const hArc7=[13.7,.04,14.05,.01,13.9,-.03];
const hArc8=[10.1,-.11,10.5,-.135,11.2,-.14];
const hArc9=[12.2,-.118,13.3,-.113,14,-.095,14.8,-.07];
const hArc10=[10,.115,11,.113];
const hArc11=[16.4,.02,16.5,0,16.4,-.02];
const hLens1=[10.2,.135,10.7,.142,11.2,.14,10.7,.135];
const hLens2=[10.2,-.13,10.7,-.14,11.2,-.14,10.7,-.132];
const hLens3=[13,0,13.15,.012,13.3,0,13.15,-.012];
const hDotsUp=[9,.222,8.7,.205,8.5,.2,8.9,.205,8,.207,6.5,.2,6.5,.19,9.4,.212,9.6,.215,9.9,.21,10.2,.21,10.5,.208,10.8,.205,11,.205,11.2,.2,11.4,.198,11.9,.195,12.1,.19,12.4,.19,12.5,.18,13,.17,13.4,.175,14,.165,13.8,.15,14.3,.155,14.5,.15,15,.145,15.5,.135,14.6,.125,14.9,.125,15.3,.12,16,.12,16.5,.11,16.3,.1,17,.095,17.3,.09,17.2,.07,7,.16,7.3,.165,7.7,.167,8,.165,8.3,.165,8.6,.165,8.9,.17,9.2,.165,9.5,.16,9.9,.165,10,.17,10.3,.163,10.6,.165,11,.165,11.4,.165,12,.165,7,.14,7.3,.135,8.6,.14,8.9,.15,9.2,.14,9.5,.145,9,.13,9.6,.13,10,.13,8.2,.11,7.9,.125,8.1,.115,7.5,.105,7.8,.095,5.5,.135,5.3,.125,5.8,.125,6.1,.115,5.4,.105,4.9,.085,6,.095,6.2,.095,4.6,.065,5.3,.065,5.6,.055,5.6,.045,6.5,.077,6.8,.078,7.1,.078,7.5,.07,8,.075,8.4,.07,8.6,.08,8.8,.085,9.1,.08,9.5,.085,9.8,.075,10,.07,9.5,.075,7.3,.06,8.1,.1,8.5,.098,8.9,.095,9.3,.09];
const hDotsMid=[6.4,.042,6.9,.04,7.3,.04,7.7,.043,8.3,.04,9,.03,9.1,.025,5,.03,4.9,.02,4.2,.005,4.5,-.01,4.8,-.012,5,-.02,4.6,-.027,4.8,-.035,5.1,-.04,5.5,-.04,5.7,-.05,6.1,-.045,6.5,-.04,7.3,-.04,7.7,-.04,8.1,-.04,9,-.03,9.1,-.025,8.9,-.02,9.3,-.015,3.8,-.05,4.2,-.048,4.5,-.055,5,-.068,5.6,-.065,5.9,-.065,6.5,-.07,7.3,-.07,7.2,-.075,7.5,-.06,7.4,-.05,4.3,-.08,4.5,-.09,4.8,-.1,5.5,-.087,3.5,-.113,3.8,-.103,4.1,-.11,4.3,-.105,4.5,-.115,6.9,-.095,7.2,-.095,7.8,-.09,8,-.1,8.3,-.105,8.7,-.1,9,-.09,9.2,-.08,9.5,-.075,9.7,-.065,10,-.07,8.5,-.07,8.9,-.065,9.2,-.06,9.7,-.055,9.9,-.06,10.5,-.02,11,-.03,11.3,-.045,11.6,-.05,12,-.04,12.3,-.04,12,-.02,11.6,-.015,11,.015,10.5,.03,10,.05,9.8,.04,10,.02,10.6,.06,10.9,.045,11.2,.035,11.6,.02,11.9,.01,12,0,12,-.01,12.4,.02,12.8,.01,13,.01,12.9,-.01,13.1,-.005];
const hDotsLow=[8,-.11,8.2,-.12,8.5,-.115,8.8,-.125,8.3,-.13,8.9,-.14,7.5,-.13,7,-.14,7.3,-.15,7.7,-.14,8,-.155,8.7,-.15,9,-.155,9.3,-.155,9.6,-.165,10,-.165,10.3,-.165,10.6,-.165,11,-.165,11.2,-.17,11.6,-.16,12,-.155,12.3,-.165,12.8,-.16,13.1,-.18,6.1,-.13,6.1,-.145,5.9,-.165,6.2,-.16,6.6,-.14,7,-.16,7.2,-.17,7.3,-.185,8,-.17,8.5,-.17,8.9,-.18,9.3,-.18,9.6,-.175,10,-.175,10.5,-.18,11,-.185,11.8,-.17,12.5,-.185,13,-.18,13.4,-.185,12.7,-.2,12.6,-.195,12.2,-.19,11.9,-.2,11.4,-.2,11,-.21,10.6,-.21,10.2,-.213,9.8,-.21,9.3,-.2,8.9,-.205,9.1,-.213,6.3,-.2,6.5,-.195,6.9,-.21,7.2,-.215,8,-.225,8.3,-.22,8.7,-.222,9.2,-.232,9.7,-.225];
const hDotsRight=[12,-.1,12.3,-.12,12.8,-.13,13.3,-.13,14,-.135,14.4,-.14,14.8,-.155,15.2,-.145,15.5,-.135,16,-.125,16.3,-.11,15.8,-.105,16.4,-.085,16.5,-.07,17,-.07,17.3,-.07,17.8,-.065,17,-.088,17.3,-.09,16,-.09,17.7,-.055,18,-.03,17.4,-.03,17.3,-.02,18.1,-.01,18.3,.015,18,.012,17.5,0,17.5,.01,17.3,.025,17,.03,16.9,.045,16.5,.04,16,.045,16,.03,16.6,.005,16.3,-.01,15.9,-.02,15.8,.005,17.8,.04,17.2,.05,17.3,.055,16.9,.06,16.5,.05,16,.06];

const iBand=[7.58,.135,8.17,.161,9.53,.184,10.9,.184,12.85,.174,14.6,.145,15.57,.106,16.94,.077,17.72,.028,17.8,-.014,17.43,-.047,16.35,-.089,15,-.112,14.4,-.144,12.65,-.17,10.9,-.183,9.34,-.17,7.78,-.138,7.58,-.118,9.34,-.125,11.29,-.138,12.26,-.138,13.63,-.112,14.6,-.082,13.24,-.092,11.68,-.118,10.7,-.118,9.53,-.105,8.46,-.066,9.73,-.06,10.9,-.05,12.07,-.034,12.65,-.014,12.85,.005,12.65,.025,11.68,.051,10.9,.054,9.53,.057,8.56,.07,7.78,.109];
const iLens=[11.68,.127,12.85,.116,13.82,.1,14.6,.07,14.02,.083,12.85,.099];
const iDark=[14.6,.08,15,.05,15.1,.02,15.2,-.01,15.1,-.03,14.7,-.01,14.3,.03,14.2,.06];
const iDotsLeft=[4.8,.02,4.9,.03,5,.035,5.1,.03,5.2,.025,5.3,.03,5.4,.025,4.9,.015,5,.015,5.15,.012,5.3,.015,5.5,.02,5.05,.045,5.2,.045,5.1,.06,4.6,-.005,4.7,-.01,4.85,-.005,5,-.01,5.15,-.008,5.3,-.005,5.45,-.01,5.6,-.015,5.7,-.01,4.6,-.02,4.75,-.025,4.9,-.02,5.1,-.025,5.25,-.02,5.4,-.025,4.5,-.035,4.7,-.04,4.95,-.04,5.2,-.04,5.5,-.04,4.4,-.05,4.6,-.055,4.9,-.055,5,-.08,5.2,-.08,4.7,-.07,4.3,.025,3.95,.025,4.4,-.01,5.05,.02,5.1,.01,5.2,.005,5,-.015,5.2,-.015];
const iStreak=[5.9,0,6.1,-.005,6.3,.005,6.5,.01,6.7,0,6.9,.008,7.1,.012,7.3,.003,7.5,.012,7.7,.005,7.9,0,8.1,.008,8.3,.005,8.5,.012,8.7,.003,8.9,.012,9.1,.005,9.3,-.005,8.6,-.008,8.8,-.015,7.2,-.01,6.6,-.015,6.4,-.022,5.8,.02,6,.012,6.6,.027,6.8,.027,7.5,.025,7.8,.03,8.2,.035,8.6,.03,8.9,.03,9.3,.015,9.6,-.002,8.2,-.03,8.6,-.025,8,-.045,7.5,-.05,7,-.065,6.8,-.07,5.8,-.043,7.8,.01,8,.012,8.2,.002,8.4,-.003,8.6,.006,8.8,.008,9,-.004,9,.01,7.6,0,7.4,.008];
const iDotsUp=[5.8,.165,6.2,.188,6.7,.198,7,.19,7.1,.21,7.5,.198,7.6,.19,7.4,.158,7.5,.155,6.6,.148,6.9,.158,5.4,.147,5.9,.148,5.8,.13,6.1,.13,6,.105,5.6,.105,5.1,.11,5.3,.09,5.5,.075,5.6,.07,5.8,.065,6,.07,6.3,.075,6.5,.09,7.1,.085,7.4,.08,7.4,.068,7.8,.1,8,.1,8.3,.085,8.5,.07,8.9,.065,6.4,.05,6.8,.04,7.4,.04,8.1,.175,8.2,.17,8.2,.227,9.7,.195,10.1,.195,11.7,.218,12,.195,12.3,.2,14,.17,11.5,.19];
const iDotsRight=[16.1,.117,16.7,.132,16.2,.11,17.1,.085,17.8,.095,18.1,.078,18.3,.01,18.7,-.002,19,.04,18.95,.032,19.1,.027,18,-.05,18.3,-.084,17.4,-.103,16.9,-.095,16.6,-.1,16.1,-.09,15.5,-.125];
const iDotsLow=[3.5,-.127,3.9,-.1,4,-.12,4.2,-.095,4.3,-.11,4.4,-.12,4.7,-.118,4.9,-.095,5,-.095,3.5,-.174,5.9,-.12,6.4,-.117,7,-.12,7.4,-.135,5.7,-.165,6,-.165,5.7,-.18,6.2,-.15,6.7,-.17,6.8,-.18,6,-.2,6.2,-.198,6.6,-.195,7.4,-.218,7.5,-.158,7.8,-.16,8,-.225,8.3,-.205,8.3,-.24,8.6,-.233,8.8,-.248,9,-.245,9.1,-.218,9.5,-.207,9.8,-.19,10,-.235,10.9,-.235,11.4,-.195,12,-.217,7.5,-.095,7.8,-.1,8.2,-.095,2.9,-.308,2.7,-.414];
const iMidBits=[12.4,.02,12.5,.01,12.6,0,12.5,-.01,12.6,-.015,11,.03,10.9,.025,11.3,.02,11.3,-.033,11.4,-.04,11.2,-.045,9.8,.015,9.8,.005,10,-.005,10,-.035,9.5,-.045];
const iSpecks=[9,.14,10,.12,11,.15,12,.15,13.5,.13,14.5,.11,15.5,.06,16.5,.04,17,.01,16,-.02,14.5,.02,13.5,.03,12.5,.05,11,.09,9.5,.08,10.5,.07,13,-.05,14,-.03,15.5,-.05,16.5,-.06,9,-.14,10,-.15,11,-.16,12,-.155,13,-.14,14,-.125,10,-.08,11,-.09,12,-.08,13,-.07];

// ---------- ticks and texts
const xTicksA=[6,7,8,9,10,11,12,13],xTicksB=[6,8,10,12,14],xTicksWide=[0,5,10,15];
const yTicksA=[-.1,-.05,0,.05,.1],yTicksB=[-.15,-.1,-.05,0,.05,.1,.15],yTicksD=[-.2,-.1,0,.1,.2],yTicksF=[-.15,-.1,-.05,0,.05,.1,.15,.2],yTicksI=[-.4,-.3,-.2,-.1,0,.1,.2];
const panelNames=['(a)','(b)','(c)','(d)','(e)','(f)','(g)','(h)','(i)'];
const alphaNames=['α=-60','α=-40','α=-20','α=0','α=10','α=20','α=40','α=60','α=80'];

// ---------- styling helpers
const toPts=f=>{const o=[];for(let i=0;i<f.length;i+=2)o.push({x:f[i],y:f[i+1]});return o};
const closed=f=>f.concat(f.slice(0,2));
const wrapped=f=>f.slice(-2).concat(f,f.slice(0,4));
const ink='#111';
const thick=w=>w>=1.5?w+.6:w;
const ring=(f,w=2.4,dash,c=ink)=>({data:toPts(wrapped(f)),showLine:true,pointRadius:0,borderColor:c,borderWidth:thick(w),borderDash:dash||[],tension:.4,fill:false});
const arc=(f,w=2.4,dash,c=ink)=>({data:toPts(f),showLine:true,pointRadius:0,borderColor:c,borderWidth:thick(w),borderDash:dash||[],tension:.4,fill:false,borderCapStyle:'round'});
const dots=(f,r=2.05,c=ink)=>({data:toPts(f),showLine:false,pointRadius:r,pointBackgroundColor:c,pointBorderWidth:0});
const area=(f,c='#fff')=>({data:toPts(closed(f)),showLine:true,pointRadius:0,borderWidth:0,borderColor:'rgba(0,0,0,0)',backgroundColor:c,fill:'shape',tension:.15});
const tile=(rows,on)=>{const t=document.createElement('canvas'),s=2;t.width=rows[0].length*s;t.height=rows.length*s;const x=t.getContext('2d');x.fillStyle='#fff';x.fillRect(0,0,t.width,t.height);x.fillStyle=ink;rows.forEach((r,j)=>[...r].forEach((ch,i)=>{if(ch===on)x.fillRect(i*s,j*s,s,s)}));return document.createElement('canvas').getContext('2d').createPattern(t,'repeat')};
const denseRows=['###.######.#####..######','##..#######.####.#######','#########.######.####.##','.####.###..####.#####..#','..###..#########.#######','#########.####.####.####','#####.####.###..###.####','##.##..#######.#####.###','##.########.#########..#','#######.###..###.#######','.#####..#######..###.###','######.####.#######..###','###.#########.####.#####','##..####.####..#########','#######..#.#########.##.','#.#########.###.####..#.','#..###.######..#########','#####..####.######.#####','###.#########.###..#.###','###..##.#####.#########.','#########..#####.####.##','.####.#####.####..######','.###..######.######.####','########.#####.###..####'];
const midRows=['##..####.###...###.###.#','#..####..####.####..###.','####.###.####..#.####.##','..###...###.#####.###..#','.####.#####..###..#.####','####..###.####.#####.###','##.#.####..###...###..##','###..##.####.###.####.##','#.######..###.#.####.###','#..###.###.#..###.###..#','####..####.###.##..#####','##.###.##..####.###.#.##','..####.#.####.###..###.#','#.###..###.###..####..##','###.####..#.###.#.####.#','##..###.#####..###.#.###','.###.##.###.##.###..####','#..#####..####.#.####.##','####.###.###.###..###..#','##..###..##.#####.#.####','###.###.####.##..####.##','.##.#.####..###.###.##.#','#.####..##.###..####..##','###..###.#####.##.###.##'];
const denseTile=tile(denseRows,'#'),midTile=tile(midRows,'#'),sparseTile=tile(midRows,'.');

const layersA=[ring(aOuter,2.8,[6,4]),ring(aRing2,2.4,[3,3]),ring(aRing3),ring(aRing4,3.2),ring(aRing5),ring(aRing6),ring(aRing7),ring(aRing8,3.4),ring(aRing9),ring(aRing10),ring(aRing11),ring(aRing12),ring(aRing13,1.6),dots(aCentre,3.2)];
const layersB=[ring(bRing1,2.8,[8,2]),ring(bRing2,2,[6,2]),ring(bRing3),ring(bRing4,2.8,[9,3]),ring(bRing5,2.6,[3,3]),ring(bRing6),ring(bRing7,1.8),ring(bRing8),ring(bRing9,3.6),ring(bRing10),ring(bLobeL1,3.2),ring(bLobeL2,3),ring(bLobeL3),ring(bLobeR1),ring(bLobeR2,3.2),ring(bLobeR3,3)];
const layersC=[...[cPatchA,cPatchB,cPatchC,cPatchD,cPatchE,cPatchF,cPatchG,cPatchH,cPatchI,cPatchJ,cPatchK].map(q=>area(q,sparseTile)),arc(cRim,3.4),area(cMassTop,denseTile),area(cMassLow,denseTile),area(cWall,denseTile),arc(cBandTop,3.4,[6,2]),arc(cBandLow,3.4,[6,2]),ring(cOval1),ring(cOval2),ring(cOval3),ring(cOval4),ring(cOval5),ring(cMoon1),ring(cMoon2),ring(cMoon3),dots(cCentre,3),dots(cColumn,2.3),ring(cIsle1,1.8),ring(cIsle2,1.8),ring(cIsle3,1.8),ring(cIsle4,1.8),dots(cArcTop),dots(cArcRight),dots(cArcLow),dots(cCloudUp),dots(cCloudLow),dots(cCloudMid)];
const layersD=[area(dEdge,denseTile),area(dCore),area(dGap),area(dGapUp),area(dGapLow),dots(dSpecks,2.6,'#fff'),dots(dSparse,1.8),ring(dBeads,4,[9,5]),ring(dRing1,3),ring(dRing2,3),ring(dRing3,5),ring(dMoon,2.4),ring(dMoonCore,2.4)];
const layersE=[area(eEdge,denseTile),dots(eSpecks,2.6,'#fff'),area(eLensUp),area(eLensLow),area(eGap),area(ePetal1),area(ePetal2),area(ePetal3),area(ePetal4),area(ePetal5),area(eDisc,'#111'),ring(eThin1,.8,[],'#aaa'),ring(eThin2,.8,[],'#aaa'),dots(ePetalDots,2.6),arc(eLensLine,2.2),arc(eLensLine2,2.2),arc(eArc1,3.4),arc(eArc2,4.4),dots(eStray,1.9)];
const layersF=[ring(fCres1,2.6),ring(fCres2,1.8),ring(fCres3,2.2),ring(fCres4,1.8),ring(fCres5,3,[3,2]),ring(fDiamond,2.6),ring(fSmall,2.8),dots(fInner,3.2),...[fBead1,fBead2,fBead3,fBead4,fBead5,fBead6,fBead7,fBead8,fBead9].map(b=>arc(b,4.5)),ring(fLens,2.6),arc(fDash1,2.4),arc(fDash2,2.4),dots(fDotsUp),dots(fDotsLow),dots(fDotsRight),dots(fDotsMid)];
const layersG=[ring(gChain,2.6,[7,4]),ring(gRing1,2.6),ring(gRing2,3),ring(gRing3,2.2),ring(gRing4,3.2),ring(gRing5,3),arc(gArcFar,3,[4,3]),arc(gArcBold,5.5),ring(gTri1,3.6),ring(gTri2,2.6),dots(gBlobs,3.4),dots(gDotsLeft),dots(gDotsTop),dots(gDotsRight),dots(gDotsLow)];
const layersH=[ring(hOuter,6),area(hInner,'#111'),...[hArc1,hArc2,hArc3,hArc4,hArc5,hArc6,hArc7,hArc8,hArc9,hArc10,hArc11].map(q=>arc(q,3.6,[7,5])),ring(hLens1,2),ring(hLens2,2),ring(hLens3,2),dots(hDotsUp),dots(hDotsMid),dots(hDotsLow),dots(hDotsRight)];
const layersI=[area(iBand,midTile),area(iDark,denseTile),area(iLens),dots(iSpecks,2,'#fff'),dots(iDotsLeft),dots(iStreak),dots(iDotsUp),dots(iDotsRight),dots(iDotsLow),dots(iMidBits)];

// ---------- panel layout (reference pixels for the frame) and axis ranges
const panels=[
{f:[89.3,10,415,334],xr:[5.835,13.53],yr:[-.1337,.1337],xt:xTicksA,yt:yTicksA,xm:.2,ym:.01,dec:2,tx:76,al:[382,42],lb:[251.7,413],ds:layersA},
{f:[543.7,9.5,869,334],xr:[5.14,14.69],yr:[-.1623,.1628],xt:xTicksB,yt:yTicksB,xm:.5,ym:.01,dec:2,tx:70,al:[835.7,42],lb:[710.7,413],ds:layersB},
{f:[978.7,9.5,1303.7,333.7],xr:[4.72,15.52],yr:[-.1827,.1834],xt:xTicksB,yt:yTicksB,xm:.5,ym:.01,dec:2,tx:69,al:[1270.7,42],lb:[1140.7,413],ds:layersC},
{f:[78.7,466.7,414.7,803],xr:[-.33,16.63],yr:[-.2976,.2036],xt:xTicksWide,yt:yTicksD,xm:1,ym:.02,dec:1,tx:58,al:[380.7,501],lb:[251.7,883],ds:layersD},
{f:[523.3,466.7,859.3,803],xr:[-.31,16.84],yr:[-.2491,.2069],xt:xTicksWide,yt:yTicksD,xm:1,ym:.02,dec:1,tx:58,al:[825,501],lb:[709,883],ds:layersE,dark:true},
{f:[978.7,478.7,1303.7,803],xr:[-.36,17.03],yr:[-.1843,.2055],xt:xTicksWide,yt:yTicksF,xm:1,ym:.01,dec:2,tx:78,al:[1270.7,511.7],lb:[1139,883],ds:layersF},
{f:[78.7,925.7,414.7,1262],xr:[-.35,17.88],yr:[-.2493,.227],xt:xTicksWide,yt:yTicksD,xm:1,ym:.02,dec:1,tx:47,al:[380,960],lb:[270,1341],ds:layersG},
{f:[523,925.7,859.3,1262],xr:[-.41,18.56],yr:[-.2636,.2324],xt:xTicksWide,yt:yTicksD,xm:1,ym:.02,dec:1,tx:58,al:[825,960],lb:[710.7,1341],ds:layersH},
{f:[974.3,925.7,1310,1262],xr:[-.35,19.27],yr:[-.4142,.2407],xt:xTicksWide,yt:yTicksI,xm:1,ym:.02,dec:1,tx:58,al:[1276,960],lb:[1138,1341],ds:layersI,open:true}
];
const serif="'Liberation Serif',serif",frameCol='#808080',txtCol='#262626';

const frameAndText={id:'frameAndText',afterDatasetsDraw(ch,_,o){
  const {ctx,chartArea:a,scales:{x,y}}=ch,p=o.panel,ox=p._ox,oy=p._oy;
  ctx.save();ctx.strokeStyle=frameCol;ctx.lineWidth=1;
  const mark=(sc,step,ticks,horizontal)=>{
    const lo=Math.ceil(sc.min/step-1e-6),hi=Math.floor(sc.max/step+1e-6);
    for(let k=lo;k<=hi;k++){const v=k*step,isMajor=ticks.some(t=>Math.abs(t-v)<step/3),l=isMajor?6:3,q=sc.getPixelForValue(v);
      ctx.beginPath();
      if(horizontal){ctx.moveTo(q,a.bottom);ctx.lineTo(q,a.bottom-l);ctx.moveTo(q,a.top);ctx.lineTo(q,a.top+l)}
      else{ctx.moveTo(a.left,q);ctx.lineTo(a.left+l,q);if(!p.open){ctx.moveTo(a.right,q);ctx.lineTo(a.right-l,q)}}
      ctx.stroke()}};
  mark(x,p.xm,p.xt,true);mark(y,p.ym,p.yt,false);
  ctx.lineWidth=1.5;ctx.beginPath();ctx.moveTo(a.right,a.top);ctx.lineTo(a.left,a.top);ctx.lineTo(a.left,a.bottom);ctx.lineTo(a.right,a.bottom);if(!p.open){ctx.lineTo(a.right,a.top)}ctx.stroke();
  ctx.textAlign='center';ctx.textBaseline='middle';
  ctx.font="14.5px 'Liberation Mono',monospace";ctx.letterSpacing='1.8px';ctx.fillStyle=p.dark?'#222':'#5e5e5e';
  ctx.fillText(alphaNames[o.index],p.al[0]-ox,p.al[1]-oy);
  ctx.letterSpacing='0px';ctx.font='bold 25px '+serif;ctx.fillStyle='#1a1a1a';
  ctx.fillText(panelNames[o.index],p.lb[0]-ox,p.lb[1]-oy);
  ctx.restore();
}};

const host=document.getElementById('w');
panels.forEach((p,index)=>{
  const [l,t,r,b]=p.f,W=p.tx+12,H=59,padT=12,padR=10,padB=40;
  p._ox=l-W;p._oy=t-padT;
  const c=document.createElement('canvas');
  c.width=Math.round(W+(r-l)+padR);c.height=Math.round(padT+(b-t)+H+padB);
  c.style.left=p._ox+'px';c.style.top=p._oy+'px';host.appendChild(c);
  const n=p.ds.length;p.ds.forEach((d,i)=>{d.order=n-i});
  new Chart(c,{type:'scatter',data:{datasets:p.ds},plugins:[frameAndText],options:{
    responsive:false,animation:false,events:[],devicePixelRatio:1,
    layout:{padding:{left:0,top:padT,right:c.width-W-(r-l),bottom:c.height-padT-(b-t)-H}},
    plugins:{legend:{display:false},tooltip:{enabled:false},frameAndText:{panel:p,index}},
    scales:{
      x:{type:'linear',min:p.xr[0],max:p.xr[1],grid:{display:false,drawTicks:false},border:{display:false},
        afterBuildTicks:s=>{s.ticks=p.xt.map(v=>({value:v}))},
        afterFit:s=>{s.height=H;s.paddingLeft=0;s.paddingRight=0},
        ticks:{autoSkip:false,maxRotation:0,padding:6,color:txtCol,font:{family:serif,size:20},callback:v=>String(v)},
        title:{display:true,text:'r',color:txtCol,padding:0,font:{family:serif,size:22}}},
      y:{type:'linear',min:p.yr[0],max:p.yr[1],grid:{display:false,drawTicks:false},border:{display:false},
        afterBuildTicks:s=>{s.ticks=p.yt.map(v=>({value:v}))},
        afterFit:s=>{s.width=W;s.paddingTop=0;s.paddingBottom=0},
        ticks:{autoSkip:false,padding:6,color:txtCol,font:{family:serif,size:20},callback:v=>(v<0?'\u2212':'')+Math.abs(v).toFixed(p.dec)},
        title:{display:true,text:'\u1E59',color:txtCol,padding:0,font:{family:serif,size:22,style:'italic'}}}
    }}});
});
</script></body></html>
